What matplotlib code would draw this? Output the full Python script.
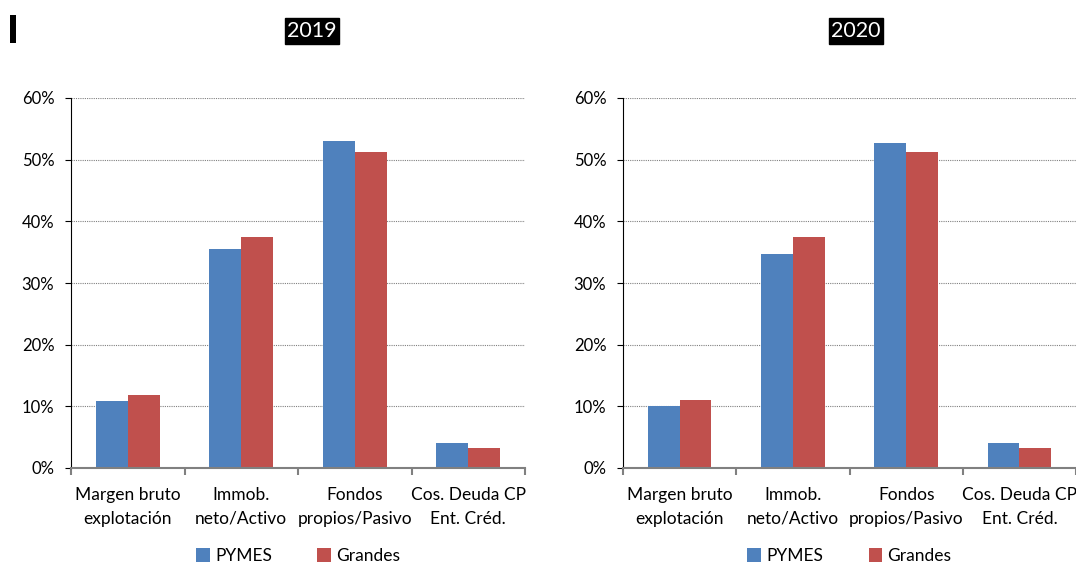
import matplotlib
matplotlib.use("Agg")
import matplotlib.pyplot as plt
import numpy as np
from matplotlib.patches import Rectangle

plt.rcParams['font.family'] = ['Lato', 'DejaVu Sans']

categories = ["Margen bruto\nexplotación", "Immob.\nneto/Activo", "Fondos\npropios/Pasivo", "Cos. Deuda CP\nEnt. Créd."]
series_names = ["PYMES", "Grandes"]
years = ["2019", "2020"]
pymes_2019 = [10.9, 35.5, 53.1, 4.1]
grandes_2019 = [11.8, 37.5, 51.3, 3.2]
pymes_2020 = [10.1, 34.7, 52.7, 4.1]
grandes_2020 = [11.1, 37.5, 51.3, 3.2]
yticks = [0, 10, 20, 30, 40, 50, 60]

colors = ["#4F81BD", "#C0504D"]
W, H = 1076, 564
fig = plt.figure(figsize=(W / 100, H / 100), dpi=100)

def px_axes(x0, x1, y0, y1):
    return fig.add_axes([x0 / W, 1 - y1 / H, (x1 - x0) / W, (y1 - y0) / H])

panels = [
    (71, 525, years[0], pymes_2019, grandes_2019, 312),
    (623, 1076, years[1], pymes_2020, grandes_2020, 856),
]

for x0, x1, yr, p, g, tx in panels:
    ax = px_axes(x0, x1, 98, 468)
    x = np.arange(len(categories))
    bw = 0.28
    ax.bar(x - bw / 2, p, bw, color=colors[0], label=series_names[0], zorder=3)
    ax.bar(x + bw / 2, g, bw, color=colors[1], label=series_names[1], zorder=3)
    ax.set_xlim(-0.5, len(categories) - 0.5)
    ax.set_ylim(0, 60)
    ax.set_yticks(yticks)
    ax.set_yticklabels([f"{v}%" for v in yticks], fontsize=12)
    ax.yaxis.grid(True, linestyle=(0, (1, 1)), color="#808080", linewidth=0.8, zorder=0)
    for s in ["top", "right"]:
        ax.spines[s].set_visible(False)
    ax.spines["left"].set_linestyle((0, (1, 1)))
    ax.spines["left"].set_color("black")
    ax.spines["left"].set_linewidth(0.8)
    ax.spines["bottom"].set_color("#808080")
    ax.spines["bottom"].set_linewidth(1.5)
    ax.spines["bottom"].set_zorder(4)
    ax.tick_params(axis="y", length=4, width=0.8, color="black", pad=8)
    # category boundary ticks
    ax.set_xticks(np.arange(-0.5, len(categories), 1.0))
    ax.set_xticklabels([])
    ax.tick_params(axis="x", length=5, width=1.5, color="#808080")
    ax.set_xticks(x, minor=True)
    ax.set_xticklabels(categories, minor=True, fontsize=12.5, linespacing=1.55)
    ax.tick_params(axis="x", which="minor", length=0, pad=14)
    ax.legend(loc="center", bbox_to_anchor=(0.5, -0.238), ncol=2, frameon=False,
              fontsize=12.5, handlelength=0.8, handleheight=0.8, handletextpad=0.3,
              columnspacing=2.6)
    fig.text(tx / W, 1 - 31 / H, yr, ha="center", va="center", fontsize=15.5, color="white",
             bbox=dict(boxstyle="square,pad=0.12", facecolor="black", edgecolor="black"))

fig.patches.append(Rectangle((10 / W, 1 - 43 / H), 6 / W, 28 / H, transform=fig.transFigure,
                             facecolor="black", edgecolor="none"))

fig.savefig("out.png", dpi=100)
